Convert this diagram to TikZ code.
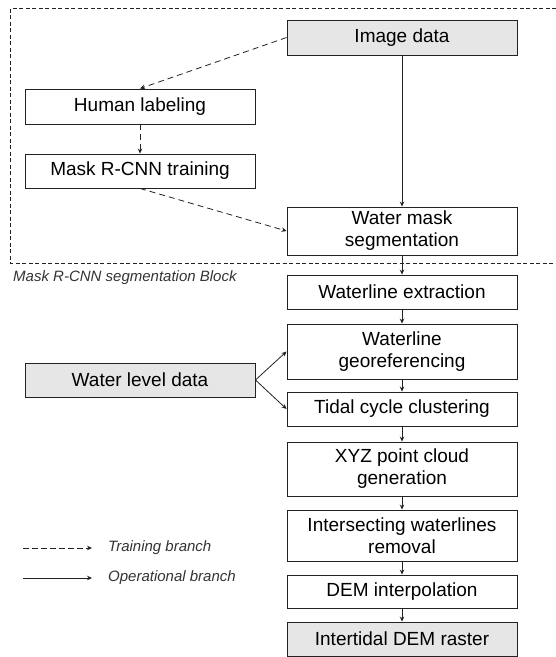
\documentclass[tikz,border=0pt]{standalone}
\usepackage{fontspec}
\setmainfont{Liberation Sans}
\usetikzlibrary{arrows.meta}
\definecolor{boxgray}{HTML}{E6E6E6}
\definecolor{linec}{HTML}{222222}
\begin{document}
\begin{tikzpicture}[x=1pt,y=-1pt,
  pbox/.style={draw=linec,line width=0.9pt,minimum width=230pt,align=center,inner sep=0pt,font=\fontsize{19}{22}\selectfont},
  gbox/.style={pbox,fill=boxgray},
  op/.style={draw=linec,line width=0.8pt,-{Stealth[length=5pt,width=4.5pt]}},
  tr/.style={op,dash pattern=on 6pt off 4pt},
  lbl/.style={font=\fontsize{15}{18}\selectfont\itshape,text=black!80,inner sep=0pt,anchor=west}]
\useasboundingbox (0,0) rectangle (556,657);
% dashed block
\draw[linec,line width=0.8pt,dash pattern=on 4pt off 2.5pt] (556,8) -- (10.5,8) -- (10.5,263) -- (556,263);
\node[lbl] (blk) at (13,278) {Mask R-CNN segmentation Block};
% boxes
\node[gbox,minimum height=35pt] (img) at (402,37.5) {Image data};
\node[pbox,minimum height=35pt] (hum) at (140,106.5) {Human labeling};
\node[pbox,minimum height=34pt] (trn) at (140,171) {Mask R-CNN training};
\node[pbox,minimum height=48pt] (wms) at (402,231) {Water mask\\segmentation};
\node[pbox,minimum height=34pt] (wle) at (402,292) {Waterline extraction};
\node[pbox,minimum height=55pt] (geo) at (402,351.5) {Waterline\\georeferencing};
\node[pbox,minimum height=34pt] (tid) at (402,409) {Tidal cycle clustering};
\node[pbox,minimum height=54pt] (xyz) at (402,469) {XYZ point cloud\\generation};
\node[pbox,minimum height=51pt] (isw) at (402,535.5) {Intersecting waterlines\\removal};
\node[pbox,minimum height=33pt] (dem) at (402,591.5) {DEM interpolation};
\node[gbox,minimum height=34pt] (ras) at (402,639) {Intertidal DEM raster};
\node[gbox,minimum height=34pt] (wld) at (140,380) {Water level data};
% connectors
\draw[tr] (img.west) -- (hum.north);
\draw[tr] (hum.south) -- (trn.north);
\draw[tr] (trn.south) -- (wms.west);
\draw[op] (img.south) -- (wms.north);
\draw[op] (wms.south) -- (wle.north);
\draw[op] (wle.south) -- (geo.north);
\draw[op] (geo.south) -- (tid.north);
\draw[op] (tid.south) -- (xyz.north);
\draw[op] (xyz.south) -- (isw.north);
\draw[op] (isw.south) -- (dem.north);
\draw[op] (dem.south) -- (ras.north);
\draw[op] (wld.east) -- (geo.west);
\draw[op] (wld.east) -- (tid.west);
% legend
\coordinate (l1a) at (23,548); \coordinate (l1b) at (92,548);
\coordinate (l2a) at (23,578); \coordinate (l2b) at (92,578);
\draw[tr,dash pattern=on 6pt off 3pt] (l1a) -- (l1b);
\draw[op] (l2a) -- (l2b);
\node[lbl] (ltr) at (108,548) {Training branch};
\node[lbl] (lop) at (108,578) {Operational branch};
\end{tikzpicture}
\end{document}
